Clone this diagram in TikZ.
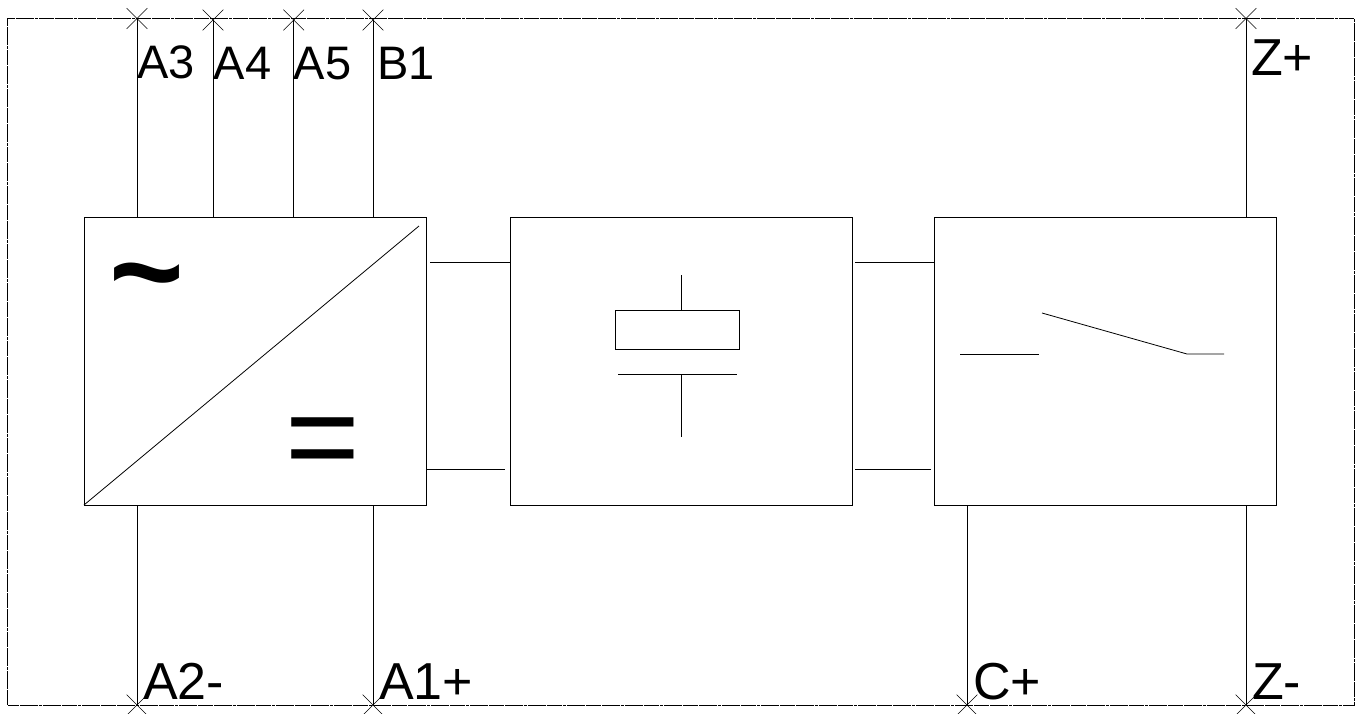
\documentclass[tikz,border=0pt]{standalone}
\usepackage{fontspec}
\setmainfont{Liberation Sans}
\usetikzlibrary{shapes.misc}
\tikzset{
  blockbox/.style={draw,line width=0.8pt,inner sep=0pt,minimum width=342,minimum height=288},
  terminal/.style={draw,cross out,line width=0.6pt,inner sep=0pt,minimum size=20},
  pinlabel/.style={anchor=base west,inner sep=0pt,font=\fontsize{52}{52}\selectfont},
  toplabel/.style={pinlabel,font=\fontsize{47}{47}\selectfont},
  symbolmark/.style={inner sep=0pt,font=\fontsize{128}{128}\selectfont},
  wire/.style={line width=0.8pt},
  frameline/.style={line width=0.7pt,dash pattern=on 15pt off 0.7pt on 3pt off 0.7pt}
}
\begin{document}
\begin{tikzpicture}[x=1pt,y=-1pt]
\useasboundingbox (0,0) rectangle (1361,713);
\draw[frameline] (7.5,705) -- (7.5,18.5) -- (1354,18.5) -- (1354,705) -- cycle;
% blocks
\node[blockbox] (conv) at (255,361) {};
\node[blockbox] (dclink) at (681,361) {};
\node[blockbox] (relay) at (1105.5,361) {};
% terminals
\node[terminal] (tA3) at (137,18.5) {};
\node[terminal] (tA4) at (213,20) {};
\node[terminal] (tA5) at (293.7,20) {};
\node[terminal] (tB1) at (373,20) {};
\node[terminal] (tZp) at (1246,18.5) {};
\node[terminal] (tA2) at (137,705) {};
\node[terminal] (tA1) at (373,705) {};
\node[terminal] (tC) at (967,705) {};
\node[terminal] (tZm) at (1246,705) {};
\foreach \t in {tA3,tA4,tA5,tB1} \draw[wire] (\t.center) -- (\t.center |- conv.north);
\draw[wire] (tZp.center) -- (tZp.center |- relay.north);
\foreach \t in {tA2,tA1} \draw[wire] (\t.center) -- (\t.center |- conv.south);
\foreach \t in {tC,tZm} \draw[wire] (\t.center) -- (\t.center |- relay.south);
% labels
\node[toplabel] (lA3) at (137,78) {A3};
\node[toplabel] (lA4) at (213.5,79) {A4};
\node[toplabel] (lA5) at (293.5,79) {A5};
\node[toplabel] (lB1) at (377,79) {B1};
\node[pinlabel] (lZp) at (1251,75) {Z+};
\node[pinlabel] (lA2) at (143,699) {A2-};
\node[pinlabel] (lA1) at (379,699) {A1+};
\node[pinlabel] (lC) at (973,699) {C+};
\node[pinlabel] (lZm) at (1252,699) {Z-};
% converter
\coordinate (diagA) at (84,505);
\coordinate (diagB) at (419,226);
\draw[wire] (diagA) -- (diagB);
\node[symbolmark,font=\fontsize{128}{128}\selectfont\bfseries] (acmark) at (147,289) {\char`\~};
\node[symbolmark] (dcmark) at (323,449) {=};
% links between blocks
\coordinate (linkA) at (430,262);
\coordinate (linkB) at (427,469);
\coordinate (linkC) at (505,469);
\coordinate (linkD) at (855,262);
\coordinate (linkE) at (855,469);
\coordinate (linkF) at (931,469);
\draw[wire] (linkA) -- (linkA -| dclink.west);
\draw[wire] (linkB) -- (linkC);
\draw[wire] (linkD) -- (linkD -| relay.west);
\draw[wire] (linkE) -- (linkF);
% capacitor
\node[draw,line width=0.8pt,minimum width=124,minimum height=39,inner sep=0pt] (capbody) at (677.7,330.3) {};
\coordinate (capplateA) at (618,374);
\coordinate (capplateB) at (737,374);
\coordinate (capup) at (681,275);
\coordinate (capdown) at (681,437);
\draw[wire] (capplateA) -- (capplateB);
\draw[wire] (capup) -- (capup |- capbody.north);
\draw[wire] (capup |- capplateA) -- (capdown);
% switch
\coordinate (swA) at (960,354);
\coordinate (swB) at (1039,354);
\coordinate (swC) at (1042,313);
\coordinate (swD) at (1187,354);
\coordinate (swE) at (1224,354);
\draw[wire] (swA) -- (swB);
\draw[wire] (swC) -- (swD) -- (swE);
\end{tikzpicture}
\end{document}
